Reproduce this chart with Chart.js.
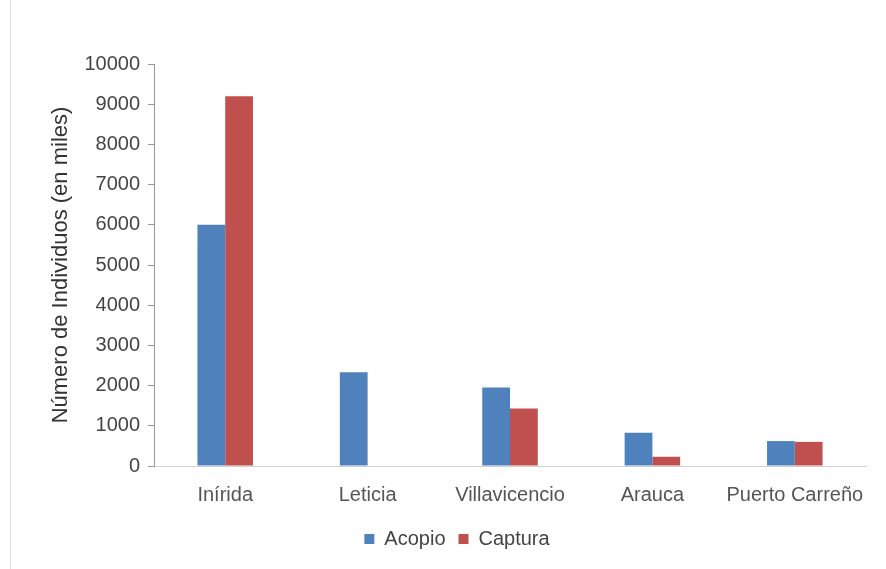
<!DOCTYPE html>
<html>
<head>
<meta charset="utf-8">
<script src="https://cdn.jsdelivr.net/npm/chart.js@4.4.0/dist/chart.umd.min.js"></script>
<style>
  html, body { margin: 0; padding: 0; background: #fff; }
  #wrap { position: relative; width: 886px; height: 569px; }
  #frame { position: absolute; left: 10px; top: 0; width: 1px; height: 569px; background: #e2e2e2; }
  #usersChart { position: absolute; left: 0; top: 0; }
</style>
</head>
<body>
<div id="wrap">
  <div id="frame"></div>
  <canvas id="usersChart" width="886" height="569"></canvas>
</div>
<script>
// values (miles de individuos)
const categories = ['Inírida', 'Leticia', 'Villavicencio', 'Arauca', 'Puerto Carreño'];
const acopio = [6000, 2330, 1950, 830, 620];
const captura = [9200, 0, 1430, 230, 600];
const yTicks = [0, 1000, 2000, 3000, 4000, 5000, 6000, 7000, 8000, 9000, 10000];

const fontFamily = '"Liberation Sans", Arial, sans-serif';

var ctx = document.getElementById('usersChart');
new Chart(ctx, {
    type: 'bar',
    data: {
        labels: categories,
        datasets: [{
            label: 'Acopio',
            data: acopio,
            backgroundColor: '#4F81BD',
            borderWidth: 0
        }, {
            label: 'Captura',
            data: captura,
            backgroundColor: '#C0504D',
            borderWidth: 0
        }]
    },
    options: {
        responsive: false,
        animation: false,
        devicePixelRatio: 1,
        categoryPercentage: 0.39,
        barPercentage: 1.0,
        layout: {
            padding: { left: 48, right: 20, top: 64, bottom: 10 }
        },
        plugins: {
            tooltip: { enabled: false },
            legend: {
                position: 'bottom',
                labels: {
                    boxWidth: 10,
                    boxHeight: 10,
                    padding: 13,
                    color: '#444',
                    font: { family: fontFamily, size: 20 }
                }
            }
        },
        scales: {
            x: {
                grid: { display: false },
                border: { display: true, color: '#d0d0d0' },
                ticks: {
                    padding: 9,
                    maxRotation: 0,
                    minRotation: 0,
                    autoSkip: false,
                    color: '#555',
                    font: { family: fontFamily, size: 20 }
                }
            },
            y: {
                min: 0,
                max: 10000,
                afterBuildTicks: axis => {
                    axis.ticks = yTicks.map(v => ({ value: v }));
                },
                grid: {
                    drawOnChartArea: false,
                    drawTicks: true,
                    tickLength: 6,
                    color: '#999'
                },
                border: { display: true, color: '#999' },
                ticks: {
                    padding: 8,
                    color: '#444',
                    font: { family: fontFamily, size: 20 },
                    callback: v => String(v)
                },
                title: {
                    display: true,
                    text: 'Número de Individuos (en miles)',
                    color: '#333',
                    padding: { top: 0, bottom: 2 },
                    font: { family: fontFamily, size: 22 }
                }
            }
        }
    }
});
</script>
</body>
</html>
